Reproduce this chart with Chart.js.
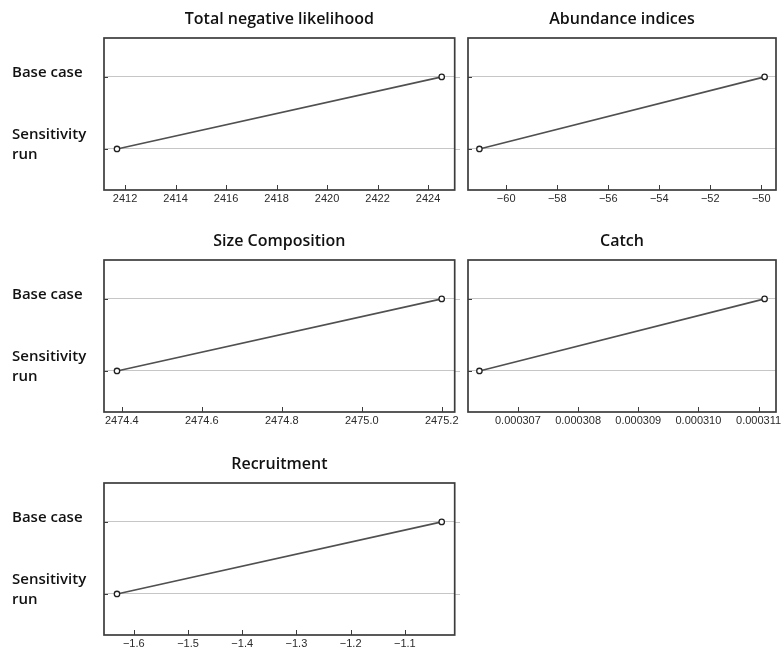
<!DOCTYPE html>
<html>
<head>
<meta charset="utf-8">
<script src="https://cdn.jsdelivr.net/npm/chart.js@4.4.1/dist/chart.umd.min.js"></script>
<style>
  html, body { margin: 0; padding: 0; background: #fff; width: 782px; height: 654px; overflow: hidden; position: relative; }
  canvas { position: absolute; }
</style>
</head>
<body>
<canvas id="p0" width="460" height="222" style="left:0px;top:0px"></canvas>
<canvas id="p1" width="322" height="222" style="left:460px;top:0px"></canvas>
<canvas id="p2" width="460" height="222" style="left:0px;top:222px"></canvas>
<canvas id="p3" width="322" height="222" style="left:460px;top:222px"></canvas>
<canvas id="p4" width="460" height="222" style="left:0px;top:445px"></canvas>
<script>
// Likelihood components: base case vs sensitivity run
const panelTitles = ['Total negative likelihood', 'Abundance indices', 'Size Composition', 'Catch', 'Recruitment'];
const runLabels = ['Base case', ['Sensitivity', 'run']];
const baseCase = [2424.54, -49.87, 2475.20, 0.0003111, -1.032];
const sensitivityRun = [2411.68, -61.05, 2474.388, 0.00030636, -1.631];

// x-axis tick values and their decimal places
const totalTicks = [2412, 2414, 2416, 2418, 2420, 2422, 2424];
const abundanceTicks = [-60, -58, -56, -54, -52, -50];
const sizeTicks = [2474.4, 2474.6, 2474.8, 2475.0, 2475.2];
const catchTicks = [0.000307, 0.000308, 0.000309, 0.000310, 0.000311];
const recruitTicks = [-1.6, -1.5, -1.4, -1.3, -1.2, -1.1];
const panelTicks = [totalTicks, abundanceTicks, sizeTicks, catchTicks, recruitTicks];
const tickDecimals = [0, 0, 1, 6, 1];

const FRAME = '#3c3c3c';
const LABEL_FONT = "'Open Sans', sans-serif";

// Reference lines run a little past the right edge of the box
const refLinePlugin = {
  id: 'refLines',
  beforeDatasetsDraw(chart) {
    const { ctx, chartArea: a, scales } = chart;
    const ext = chart.options.plugins.refLines.extend;
    if (!ext) return;
    ctx.save();
    ctx.strokeStyle = '#c6c6c6';
    ctx.lineWidth = 1;
    ctx.beginPath();
    scales.y.ticks.forEach(t => {
      const py = Math.round(scales.y.getPixelForValue(t.value)) + 0.5;
      ctx.moveTo(a.right, py);
      ctx.lineTo(a.right + ext, py);
    });
    ctx.stroke();
    ctx.restore();
  }
};

// Box, inward tick marks and panel title
const framePlugin = {
  id: 'frame',
  afterDraw(chart) {
    const { ctx, chartArea: a, scales } = chart;
    ctx.save();
    ctx.strokeStyle = FRAME;
    ctx.lineWidth = 1;
    ctx.beginPath();
    scales.x.ticks.forEach(t => {
      const px = Math.round(scales.x.getPixelForValue(t.value)) + 0.5;
      ctx.moveTo(px, a.bottom);
      ctx.lineTo(px, a.bottom - 5);
    });
    scales.y.ticks.forEach(t => {
      const py = Math.round(scales.y.getPixelForValue(t.value)) + 0.5;
      ctx.moveTo(a.left, py);
      ctx.lineTo(a.left + 4, py);
    });
    ctx.stroke();
    ctx.lineWidth = 1.7;
    ctx.strokeRect(a.left, a.top, a.right - a.left, a.bottom - a.top);
    const title = chart.options.plugins.frame.title;
    ctx.fillStyle = '#111';
    ctx.font = "600 16px " + LABEL_FONT;
    ctx.textAlign = 'center';
    ctx.textBaseline = 'alphabetic';
    ctx.fillText(title, (a.left + a.right) / 2, a.top - 14);
    ctx.restore();
  }
};

function fmt(v, d) {
  return v.toFixed(d).replace('-', '\u2212');
}

function makePanel(i) {
  const leftCol = i % 2 === 0;
  const lo = sensitivityRun[i], hi = baseCase[i];
  const span = Math.abs(hi - lo);
  const xmin = Math.min(lo, hi) - 0.04 * span;
  const xmax = Math.max(lo, hi) + 0.04 * span;
  const ticks = panelTicks[i];
  new Chart(document.getElementById('p' + i), {
    type: 'scatter',
    data: {
      datasets: [{
        data: [{ x: sensitivityRun[i], y: 1 }, { x: baseCase[i], y: 2 }],
        showLine: true,
        borderColor: '#505050',
        borderWidth: 1.6,
        pointRadius: 2.7,
        pointBorderWidth: 1.3,
        pointBorderColor: '#222',
        pointBackgroundColor: '#fff'
      }]
    },
    options: {
      responsive: false,
      animation: false,
      events: [],
      layout: { padding: { left: leftCol ? 12 : 8, right: leftCol ? 5 : 6, top: 38, bottom: 0 } },
      plugins: {
        legend: { display: false },
        tooltip: { enabled: false },
        frame: { title: panelTitles[i] },
        refLines: { extend: leftCol ? 13 : 0 }
      },
      scales: {
        x: {
          type: 'linear',
          min: xmin,
          max: xmax,
          grid: { display: false, drawTicks: false },
          border: { display: false },
          afterBuildTicks: s => { s.ticks = ticks.map(v => ({ value: v })); },
          afterFit: s => { s.height = 32; s.paddingLeft = 0; s.paddingRight = 0; },
          ticks: {
            autoSkip: false,
            maxRotation: 0,
            padding: 2,
            color: '#2a2a2a',
            font: { family: "'Liberation Sans', Arial, sans-serif", size: 11 },
            callback: v => fmt(v, tickDecimals[i])
          }
        },
        y: {
          type: 'linear',
          min: 0.43,
          max: 2.54,
          grid: { display: true, color: '#c6c6c6', lineWidth: 1, drawTicks: false },
          border: { display: false },
          afterBuildTicks: s => { s.ticks = [{ value: 1 }, { value: 2 }]; },
          afterFit: s => { s.width = leftCol ? 92 : 0; s.paddingTop = 0; s.paddingBottom = 0; },
          ticks: {
            display: leftCol,
            crossAlign: 'far',
            labelOffset: -4,
            padding: 0,
            color: '#111',
            font: { family: LABEL_FONT, size: 15, weight: '600', lineHeight: 1.35 },
            callback: v => (v === 2 ? runLabels[0] : runLabels[1])
          }
        }
      }
    },
    plugins: [refLinePlugin, framePlugin]
  });
}

for (let i = 0; i < panelTitles.length; i++) makePanel(i);
</script>
</body>
</html>
